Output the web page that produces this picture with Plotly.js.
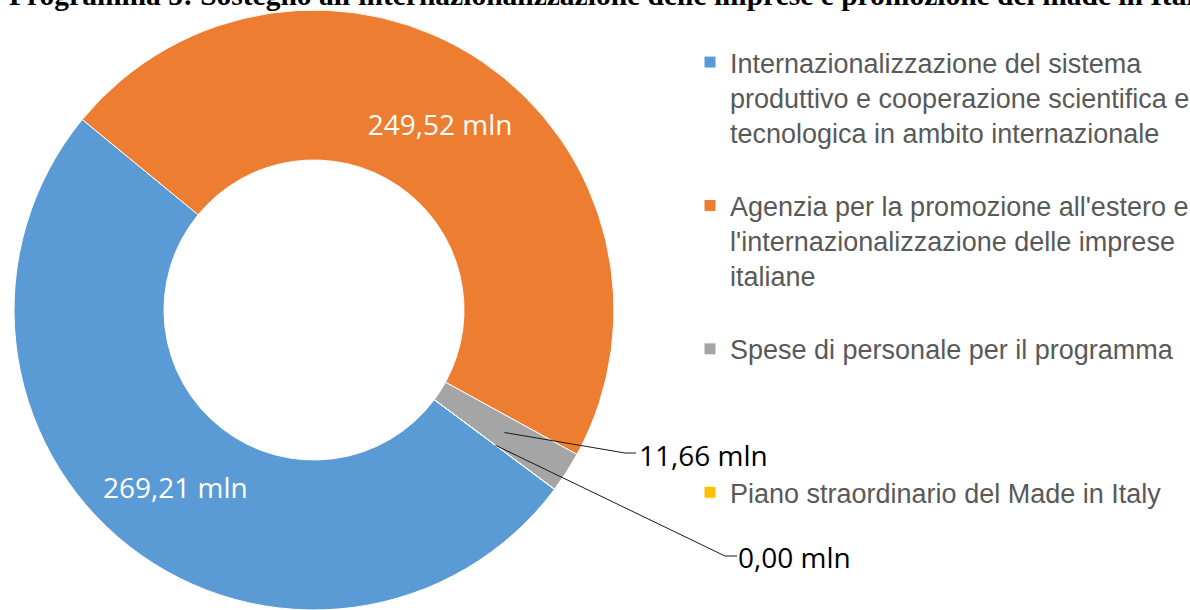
<!DOCTYPE html>
<html><head><meta charset="utf-8">
<script src="https://cdn.plot.ly/plotly-3.0.1.min.js"></script>
<style>html,body{margin:0;padding:0;background:#fff;}#chart{width:1190px;height:610px;}</style>
</head><body><div id="chart"></div>
<script>
// ---- data ----
const chartTitle = "Programma 5: Sostegno all'internazionalizzazione delle imprese e promozione del made in Italy";
const categories = [
  "Internazionalizzazione del sistema<br>produttivo e cooperazione scientifica e<br>tecnologica in ambito internazionale",
  "Agenzia per la promozione all'estero e<br>l'internazionalizzazione delle imprese<br>italiane",
  "Spese di personale per il programma",
  "Piano straordinario del Made in Italy"
];
const values = [269.21, 249.52, 11.66, 0.00];
const unit = " mln";
const colors = ["#5B9BD5", "#ED7D31", "#A5A5A5", "#FFC000"];
const legendPad = ["<br>&nbsp;", "<br>&nbsp;", "<br>&nbsp;<br>&nbsp;<br>&nbsp;", ""];

// ---- layout constants ----
const W = 1190, H = 610;
const domX = [14 / W, 614 / W], domY = [0, 600 / H];
const rotation = 126.7;
const hole = 0.5;

const cx = (domX[0] + domX[1]) / 2 * W;
const cy = H - (domY[0] + domY[1]) / 2 * H;
const R = Math.min((domX[1] - domX[0]) * W, (domY[1] - domY[0]) * H) / 2;
const total = values.reduce((a, b) => a + b, 0);

function ringPoint(idx, rFrac) {
  let start = 0;
  for (let i = 0; i < idx; i++) start += values[i];
  const ang = (rotation + (start + values[idx] / 2) / total * 360) * Math.PI / 180;
  return [cx + R * rFrac * Math.sin(ang), cy - R * rFrac * Math.cos(ang)];
}
const px = x => x / W, py = y => 1 - y / H;
const fmt = v => v.toFixed(2).replace('.', ',') + unit;

// outside labels: slice index, elbow of leader line, label left/center
const outside = [
  {i: 2, elbow: [625, 453], end: [636, 453], text: [637, 455]},
  {i: 3, elbow: [725, 556], end: [737, 556], text: [736, 557]}
];
const shapes = [], annotations = [];
outside.forEach(o => {
  const a = ringPoint(o.i, 0.755);
  shapes.push({type: 'path', xref: 'paper', yref: 'paper',
    path: `M${px(a[0])},${py(a[1])} L${px(o.elbow[0])},${py(o.elbow[1])} L${px(o.end[0])},${py(o.end[1])}`,
    line: {color: '#1a1a1a', width: 1}});
  annotations.push({xref: 'paper', yref: 'paper', x: px(o.text[0]), y: py(o.text[1]),
    xanchor: 'left', yanchor: 'middle', showarrow: false, text: fmt(values[o.i]),
    font: {family: 'Open Sans, sans-serif', size: 28, color: '#000'}});
});
annotations.push({xref: 'paper', yref: 'paper', x: px(7), y: 1, xanchor: 'left', yanchor: 'bottom',
  yshift: -13, showarrow: false, text: '<b>' + chartTitle + '</b>',
  font: {family: 'Liberation Serif, Times New Roman, serif', size: 29.5, color: '#000'}});

const trace = {
  type: 'pie',
  labels: categories.map((c, i) => c + legendPad[i]),
  values: values,
  sort: false,
  direction: 'clockwise',
  rotation: rotation,
  hole: hole,
  domain: {x: domX, y: domY},
  marker: {colors: colors, line: {color: '#ffffff', width: 1}},
  text: values.map(fmt),
  textinfo: 'text',
  textposition: values.map((v, i) => i < 2 ? 'inside' : 'none'),
  insidetextorientation: 'horizontal',
  insidetextfont: {family: 'Open Sans, sans-serif', size: 28, color: '#ffffff'},
  hoverinfo: 'none'
};

const layout = {
  width: W, height: H,
  margin: {l: 0, r: 0, t: 0, b: 0, autoexpand: false},
  paper_bgcolor: '#ffffff',
  showlegend: true,
  legend: {x: px(690), y: py(38), xanchor: 'left', yanchor: 'top', valign: 'top',
    font: {family: 'Liberation Sans, Arial, sans-serif', size: 27, color: '#595959'},
    bgcolor: 'rgba(0,0,0,0)'},
  shapes: shapes,
  annotations: annotations
};

Plotly.newPlot('chart', [trace], layout, {staticPlot: true});
</script>
</body></html>
